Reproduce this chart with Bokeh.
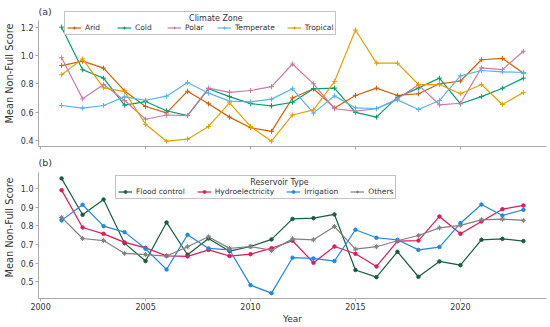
from bokeh.plotting import figure
from bokeh.layouts import column
from bokeh.models import (Range1d, Legend, LegendItem, FixedTicker, NumeralTickFormatter,
                          CustomLabelingPolicy, Label)
from bokeh.embed import file_html
from bokeh.resources import INLINE

years = list(range(2001, 2024))

# Panel (a): climate zones
arid = [0.929, 0.960, 0.911, 0.750, 0.640, 0.595, 0.748, 0.659, 0.565, 0.490, 0.464,
        0.700, 0.765, 0.630, 0.718, 0.770, 0.718, 0.730, 0.800, 0.820, 0.970, 0.980, 0.875]
cold = [1.200, 0.899, 0.840, 0.650, 0.675, 0.610, 0.576, 0.765, 0.710, 0.660, 0.645,
        0.670, 0.765, 0.770, 0.598, 0.565, 0.706, 0.770, 0.840, 0.659, 0.710, 0.769, 0.840]
polar = [0.984, 0.694, 0.795, 0.682, 0.550, 0.580, 0.576, 0.770, 0.740, 0.753, 0.780,
         0.940, 0.800, 0.624, 0.607, 0.624, 0.694, 0.793, 0.652, 0.663, 0.913, 0.900, 1.030]
temperate = [0.647, 0.628, 0.647, 0.708, 0.684, 0.713, 0.810, 0.734, 0.678, 0.673, 0.692,
             0.765, 0.593, 0.715, 0.630, 0.626, 0.687, 0.619, 0.682, 0.856, 0.894, 0.885, 0.880]
tropical = [0.864, 0.976, 0.772, 0.745, 0.515, 0.395, 0.409, 0.499, 0.666, 0.499, 0.395,
            0.580, 0.616, 0.816, 1.180, 0.946, 0.946, 0.795, 0.795, 0.730, 0.795, 0.654, 0.739]
zone_names = ["Arid", "Cold", "Polar", "Temperate", "Tropical"]
zone_colors = ["#D55E00", "#009E73", "#CC79A7", "#56B4E9", "#E69F00"]
zone_title = "Climate Zone"

# Panel (b): reservoir types
flood = [1.054, 0.859, 0.941, 0.707, 0.611, 0.818, 0.645, 0.732, 0.664, 0.689, 0.727,
         0.837, 0.841, 0.861, 0.563, 0.525, 0.661, 0.527, 0.609, 0.589, 0.725, 0.730, 0.718]
hydro = [0.991, 0.791, 0.757, 0.711, 0.682, 0.639, 0.636, 0.671, 0.638, 0.648, 0.680,
         0.720, 0.602, 0.689, 0.650, 0.582, 0.718, 0.721, 0.850, 0.757, 0.823, 0.889, 0.909]
irrig = [0.829, 0.913, 0.798, 0.766, 0.677, 0.566, 0.752, 0.679, 0.671, 0.482, 0.439,
         0.629, 0.625, 0.611, 0.779, 0.736, 0.725, 0.671, 0.686, 0.814, 0.914, 0.855, 0.886]
others = [0.845, 0.732, 0.721, 0.652, 0.646, 0.638, 0.688, 0.741, 0.679, 0.689, 0.668,
          0.730, 0.725, 0.796, 0.675, 0.688, 0.720, 0.748, 0.789, 0.802, 0.832, 0.836, 0.829]
res_names = ["Flood control", "Hydroelectricity", "Irrigation", "Others"]
res_colors = ["#175E3E", "#E0195A", "#1E88E5", "#808080"]
res_markers = ["circle", "circle", "circle", "asterisk"]
res_title = "Reservoir Type"

x_ticks = [2000, 2005, 2010, 2015, 2020]
FONT = "DejaVu Sans"
TXT = "#333333"
SPINE = "#aaaaaa"
NB = "\u00a0"


def style(p, show_xlabels):
    p.outline_line_color = None
    p.xgrid.visible = False
    p.ygrid.visible = False
    for ax in (p.xaxis[0], p.yaxis[0]):
        ax.axis_line_color = SPINE
        ax.major_tick_line_color = SPINE
        ax.minor_tick_line_color = None
        ax.major_tick_in = 0
        ax.major_tick_out = 3
        ax.major_label_text_font = FONT
        ax.major_label_text_font_size = "8px"
        ax.major_label_text_color = TXT
        ax.major_label_standoff = 2
        ax.axis_label_text_font = FONT
        ax.axis_label_text_font_size = "9px"
        ax.axis_label_text_font_style = "normal"
        ax.axis_label_text_color = TXT
        ax.axis_label_standoff = 3
    p.yaxis.axis_label_text_font_size = "9.8px"
    p.xaxis.ticker = FixedTicker(ticks=x_ticks)
    p.xaxis.major_label_standoff = 1
    p.xaxis.axis_label_standoff = 1
    if not show_xlabels:
        p.xaxis.major_label_text_font_size = "1px"
        p.xaxis.major_label_standoff = 0
        p.xaxis.major_label_policy = CustomLabelingPolicy(
            code="for (const i of Array.from(indices)) { indices.unset(i) }\nreturn indices")
    p.yaxis.formatter = NumeralTickFormatter(format="0.0")
    p.yaxis.axis_label = "Mean Non-Full Score"


def make_legend(items, loc, title, pad):
    return Legend(items=items, orientation="horizontal", location=loc,
                  title=NB * pad + title, title_text_font=FONT, title_text_font_size="8px",
                  title_text_font_style="normal", title_text_color=TXT, title_standoff=0,
                  label_text_font=FONT, label_text_font_size="7.5px", label_text_color=TXT,
                  label_height=7, glyph_height=7, glyph_width=14, label_standoff=4,
                  spacing=12, padding=2, margin=0,
                  border_line_color="#888888", border_line_width=1,
                  background_fill_color="white", background_fill_alpha=1.0)


def panel_label(p, x, y, text):
    p.add_layout(Label(x=x, y=y, text=text, text_align="left", text_baseline="middle",
                       text_font=FONT, text_font_size="9.5px", text_color=TXT))


# ---------- panel (a)
pa = figure(frame_width=508, frame_height=146, output_backend="svg", toolbar_location=None,
            x_range=Range1d(1999.9, 2024.1), y_range=Range1d(0.3576, 1.3882),
            min_border_left=30, min_border_right=4, min_border_top=0, min_border_bottom=10)
style(pa, False)
pa.yaxis.ticker = FixedTicker(ticks=[0.4, 0.6, 0.8, 1.0, 1.2])
pa.yaxis.bounds = (0.3576, 1.245)

items_a = []
for name, col, vals in zip(zone_names, zone_colors, [arid, cold, polar, temperate, tropical]):
    r1 = pa.line(years, vals, line_color=col, line_width=1.2)
    r2 = pa.scatter(years, vals, marker="cross", size=5, line_color=col, line_width=1)
    items_a.append(LegendItem(label=name, renderers=[r1, r2]))
pa.add_layout(make_legend(items_a, (26, 111), zone_title, 48), "center")
panel_label(pa, 1999.9, 1.3127, "(a)")

# ---------- panel (b)
pb = figure(frame_width=508, frame_height=142, output_backend="svg", toolbar_location=None,
            x_range=Range1d(1999.9, 2024.1), y_range=Range1d(0.4105, 1.1713),
            min_border_left=30, min_border_right=4, min_border_top=0, min_border_bottom=29)
style(pb, True)
pb.xaxis.axis_label = "Year"
pb.yaxis.ticker = FixedTicker(ticks=[0.5, 0.6, 0.7, 0.8, 0.9, 1.0])
pb.yaxis.bounds = (0.4105, 1.085)

items_b = []
for name, col, mk, vals in zip(res_names, res_colors, res_markers, [flood, hydro, irrig, others]):
    r1 = pb.line(years, vals, line_color=col, line_width=1.2)
    r2 = pb.scatter(years, vals, marker=mk, size=3.5 if mk == "circle" else 5,
                    line_color=col, fill_color=col, line_width=1)
    items_b.append(LegendItem(label=name, renderers=[r1, r2]))
pb.add_layout(make_legend(items_b, (77, 99), res_title, 52), "center")
panel_label(pb, 1999.9, 1.1407, "(b)")

layout = column(pa, pb, spacing=0)
open("out.html", "w").write(file_html(layout, INLINE))
